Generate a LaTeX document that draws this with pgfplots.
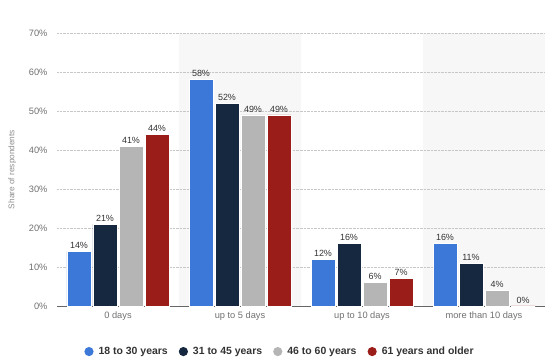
\documentclass[border=0pt]{standalone}
\usepackage{pgfplots}
\pgfplotsset{compat=1.18}
\usepackage{fontspec}
\setmainfont{Liberation Sans}
\definecolor{cblue}{HTML}{3C78D8}
\definecolor{cnavy}{HTML}{162840}
\definecolor{cgray}{HTML}{B5B5B5}
\definecolor{cred}{HTML}{9A1D1A}
\definecolor{tgray}{HTML}{707070}
\definecolor{vgray}{HTML}{333333}
\definecolor{band}{HTML}{F7F7F7}
\pgfplotsset{layers/mylayers/.define layer set={axis background,axis grid,axis ticks,main,axis lines,axis tick labels,axis descriptions,axis foreground}{}}
\begin{document}
\begin{tikzpicture}
\begin{axis}[
  set layers=mylayers,
  scale only axis,
  width=488bp, height=273bp,
  ymin=0, ymax=70,
  xmin=-0.5, xmax=3.5,
  ybar=2bp,
  bar width=24bp,
  xtick=data,
  xticklabels={0 days, up to 5 days, up to 10 days, more than 10 days},
  ytick={0,10,...,70},
  yticklabel={\pgfmathprintnumber{\tick}\%},
  /pgf/number format/assume math mode=true,
  ticklabel style={font=\fontsize{9.3}{11}\selectfont, text=tgray},
  xticklabel style={yshift=-2bp},
  yticklabel style={xshift=-6bp},
  major tick length=0pt,
  axis x line*=bottom,
  axis y line*=left,
  y axis line style={draw=none},
  x axis line style={draw=black!60, line width=0.9pt, -},
  ymajorgrids,
  grid style={densely dotted, draw=black!22, line width=0.5pt},
  ylabel={Share of respondents},
  ylabel style={font=\fontsize{8.3}{10}\selectfont, text=black!45, yshift=6bp},
  nodes near coords={\pgfmathprintnumber{\pgfplotspointmeta}\%},
  nodes near coords style={font=\fontsize{9}{11}\selectfont, text=vgray, /pgf/number format/assume math mode=true, inner sep=2.5pt},
  legend style={at={(0.457,-0.135)}, anchor=north, draw=none, fill=none,
     font=\bfseries\fontsize{10.5}{12}\selectfont, text=vgray,
     /tikz/every odd column/.append style={column sep=3bp},
     /tikz/every even column/.append style={column sep=9bp}},
  legend columns=4,
  legend image code/.code={\fill[#1,draw=none] (3bp,0bp) circle (4.6bp);},
  clip=false,
]
\begin{pgfonlayer}{axis background}
\fill[band] (axis cs:0.5,0) rectangle (axis cs:1.5,70);
\fill[band] (axis cs:2.5,0) rectangle (axis cs:3.5,70);
\end{pgfonlayer}
\addplot[fill=cblue, draw=white, line width=0.6pt] coordinates {(0,14) (1,58) (2,12) (3,16)};
\addplot[fill=cnavy, draw=white, line width=0.6pt] coordinates {(0,21) (1,52) (2,16) (3,11)};
\addplot[fill=cgray, draw=white, line width=0.6pt] coordinates {(0,41) (1,49) (2,6) (3,4)};
\addplot[fill=cred, draw=white, line width=0.6pt] coordinates {(0,44) (1,49) (2,7) (3,0)};
\legend{18 to 30 years, 31 to 45 years, 46 to 60 years, 61 years and older}
\end{axis}
\path[use as bounding box] ([xshift=-57bp,yshift=-55bp]current axis.south west) rectangle ([xshift=15bp,yshift=33bp]current axis.north east);
\end{tikzpicture}
\end{document}
